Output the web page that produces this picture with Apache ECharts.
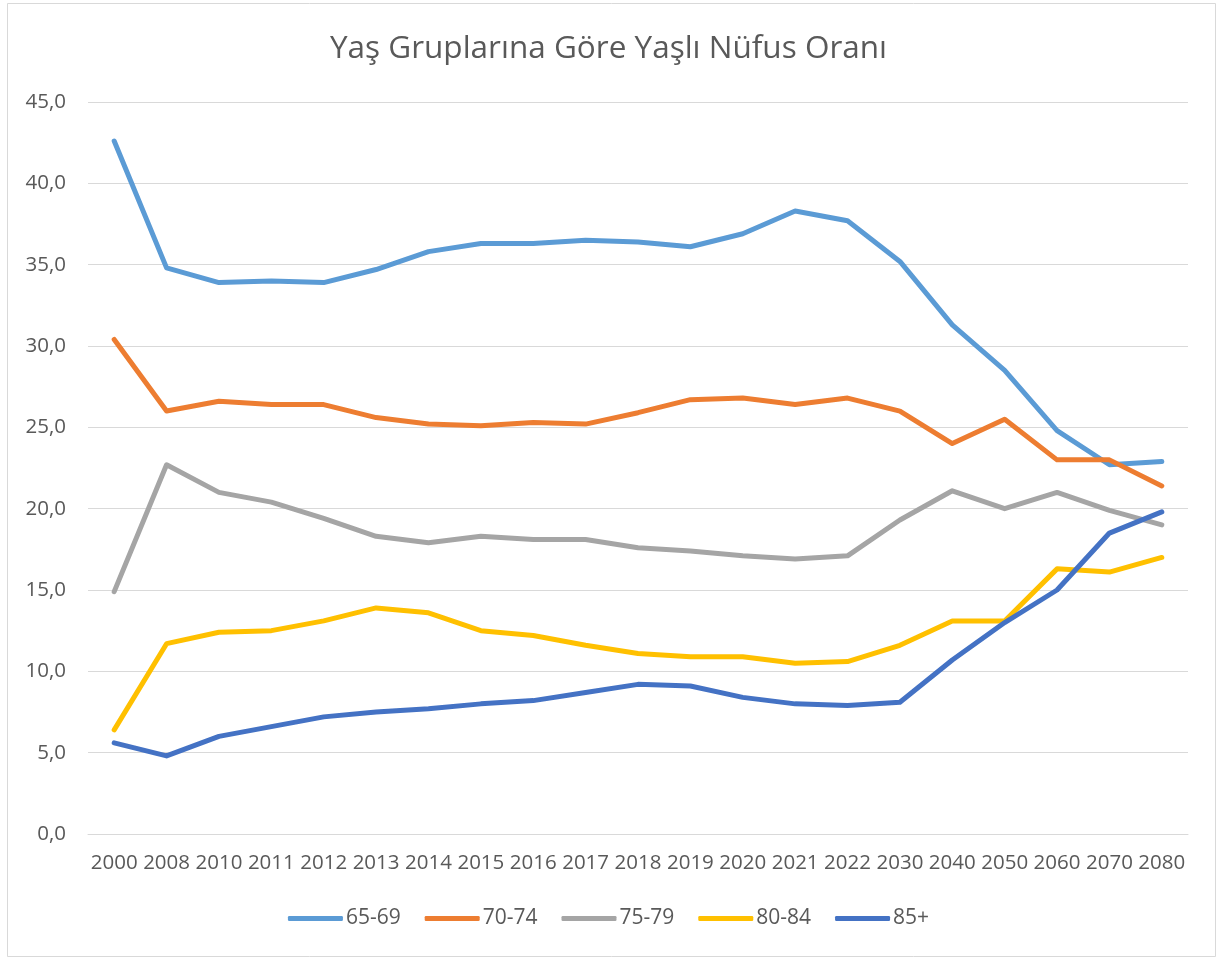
<!DOCTYPE html>
<html>
<head>
<meta charset="utf-8">
<script src="https://cdn.jsdelivr.net/npm/echarts@6/dist/echarts.min.js"></script>
<style>
html,body{margin:0;padding:0;background:#fff;}
#c{width:1217px;height:960px;}
</style>
</head>
<body>
<div id="c"></div>
<script>
const title = 'Yaş Gruplarına Göre Yaşlı Nüfus Oranı';
const categories = ['2000','2008','2010','2011','2012','2013','2014','2015','2016','2017','2018','2019','2020','2021','2022','2030','2040','2050','2060','2070','2080'];
const seriesNames = ['65-69','70-74','75-79','80-84','85+'];
const s6569 = [42.6, 34.8, 33.9, 34.0, 33.9, 34.7, 35.8, 36.3, 36.3, 36.5, 36.4, 36.1, 36.9, 38.3, 37.7, 35.2, 31.3, 28.5, 24.8, 22.7, 22.9];
const s7074 = [30.4, 26.0, 26.6, 26.4, 26.4, 25.6, 25.2, 25.1, 25.3, 25.2, 25.9, 26.7, 26.8, 26.4, 26.8, 26.0, 24.0, 25.5, 23.0, 23.0, 21.4];
const s7579 = [14.9, 22.7, 21.0, 20.4, 19.4, 18.3, 17.9, 18.3, 18.1, 18.1, 17.6, 17.4, 17.1, 16.9, 17.1, 19.3, 21.1, 20.0, 21.0, 19.9, 19.0];
const s8084 = [6.4, 11.7, 12.4, 12.5, 13.1, 13.9, 13.6, 12.5, 12.2, 11.6, 11.1, 10.9, 10.9, 10.5, 10.6, 11.6, 13.1, 13.1, 16.3, 16.1, 17.0];
const s85 = [5.6, 4.8, 6.0, 6.6, 7.2, 7.5, 7.7, 8.0, 8.2, 8.7, 9.2, 9.1, 8.4, 8.0, 7.9, 8.1, 10.7, 13.0, 15.0, 18.5, 19.8];
const seriesData = [s6569, s7074, s7579, s8084, s85];
const colors = ['#5B9BD5', '#ED7D31', '#A5A5A5', '#FFC000', '#4472C4'];

const FONT = 'Open Sans';
const chart = echarts.init(document.getElementById('c'), null, {renderer: 'canvas'});
chart.setOption({
  animation: false,
  backgroundColor: '#ffffff',
  color: colors,
  title: {
    text: title,
    left: 'center',
    top: 28,
    textStyle: {fontFamily: FONT, fontSize: 31.5, fontWeight: 'normal', color: '#595959'}
  },
  graphic: [{
    type: 'rect',
    shape: {x: 7.5, y: 3.5, width: 1208, height: 953},
    style: {fill: 'none', stroke: '#D9D9D9', lineWidth: 1},
    silent: true
  }],
  legend: {
    data: seriesNames,
    bottom: 26,
    left: 'center',
    itemWidth: 55,
    itemHeight: 5,
    itemGap: 24,
    icon: 'roundRect',
    textStyle: {fontFamily: FONT, fontSize: 21, color: '#595959', padding: [0,0,0,-2]}
  },
  grid: {left: 88, right: 29, top: 102, bottom: 126, containLabel: false},
  xAxis: {
    type: 'category',
    data: categories,
    boundaryGap: true,
    axisLine: {show: true, lineStyle: {color: '#D9D9D9', width: 1}},
    axisTick: {show: false},
    axisLabel: {fontFamily: FONT, fontSize: 20.5, color: '#595959', margin: 19, interval: 0}
  },
  yAxis: {
    type: 'value',
    min: 0,
    max: 45,
    interval: 5,
    axisLine: {show: false},
    axisTick: {show: false},
    splitLine: {lineStyle: {color: '#D9D9D9', width: 1}},
    axisLabel: {
      fontFamily: FONT, fontSize: 20.5, color: '#595959', margin: 22,
      formatter: v => v.toFixed(1).replace('.', ',')
    }
  },
  series: seriesNames.map((n, i) => ({
    name: n,
    type: 'line',
    data: seriesData[i],
    symbol: 'none',
    smooth: false,
    lineStyle: {width: 5, color: colors[i], cap: 'round', join: 'round'},
    itemStyle: {color: colors[i]}
  }))
});
</script>
</body>
</html>
